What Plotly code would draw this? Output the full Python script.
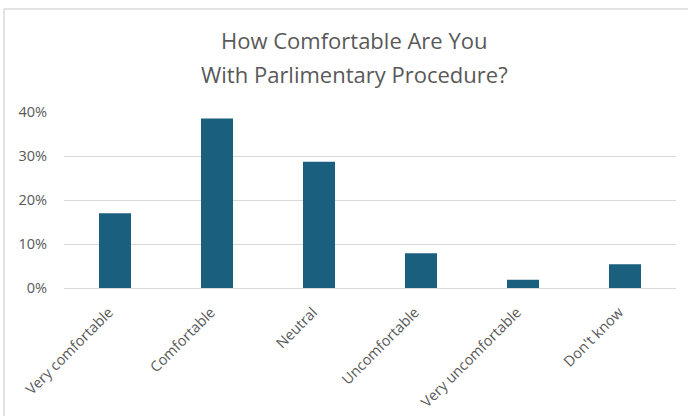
import plotly.graph_objects as go

# Survey responses
categories = ["Very comfortable", "Comfortable", "Neutral", "Uncomfortable",
              "Very uncomfortable", "Don't know"]
shares = [0.170, 0.385, 0.287, 0.079, 0.019, 0.054]

y_ticks = [0, 0.1, 0.2, 0.3, 0.4]
y_tick_labels = ["0%", "10%", "20%", "30%", "40%"]

title_lines = ["How Comfortable Are You", "With Parlimentary Procedure?"]

bar_color = "#1b5f7f"
text_color = "#595959"
grid_color = "#d9d9d9"
font_family = "Open Sans, Liberation Sans, sans-serif"

fig = go.Figure(
    go.Bar(
        x=categories,
        y=shares,
        marker=dict(color=bar_color, line=dict(width=0)),
        width=0.314,
        hoverinfo="x+y",
    )
)

W, H = 688, 416
L, R, T, B = 64, 12, 112, 128
plot_h = H - T - B


def py(px):
    """Pixel row in the page -> paper y coordinate."""
    return (H - B - px) / plot_h


title_x = (354 - L) / (W - L - R)
title_rows = [40, 74]

annotations = [
    dict(text=line, xref="paper", yref="paper", x=title_x, y=py(row),
         xanchor="center", yanchor="middle", showarrow=False,
         font=dict(family=font_family, size=22, color=text_color))
    for line, row in zip(title_lines, title_rows)
]

fig.update_layout(
    width=W,
    height=H,
    margin=dict(l=L, r=R, t=T, b=B, pad=0, autoexpand=False),
    paper_bgcolor="white",
    plot_bgcolor="white",
    showlegend=False,
    font=dict(family=font_family, color=text_color, size=14),
    annotations=annotations,
    xaxis=dict(
        automargin=False,
        tickangle=-45,
        showgrid=False,
        showline=False,
        zeroline=False,
        ticks="",
        ticklabelstandoff=12,
        ticklabelshift=-6,
        tickfont=dict(size=14.5, color=text_color),
    ),
    yaxis=dict(
        automargin=False,
        range=[0, 0.4],
        tickvals=y_ticks,
        ticktext=y_tick_labels,
        showgrid=True,
        gridcolor=grid_color,
        gridwidth=1,
        zeroline=True,
        zerolinecolor=grid_color,
        zerolinewidth=1,
        showline=False,
        ticks="",
        ticklabelstandoff=16,
        tickfont=dict(size=14.5, color=text_color),
    ),
    shapes=[
        # chart frame: top edge
        dict(type="line", xref="paper", yref="paper",
             xsizemode="pixel", ysizemode="pixel", xanchor=0, yanchor=1,
             x0=-60, x1=W, y0=103, y1=103,
             line=dict(color=grid_color, width=1.5)),
        # chart frame: left edge
        dict(type="line", xref="paper", yref="paper",
             xsizemode="pixel", ysizemode="pixel", xanchor=0, yanchor=1,
             x0=-60, x1=-60, y0=103, y1=-H,
             line=dict(color=grid_color, width=1.5)),
    ],
)

fig.write_html("out.html")
